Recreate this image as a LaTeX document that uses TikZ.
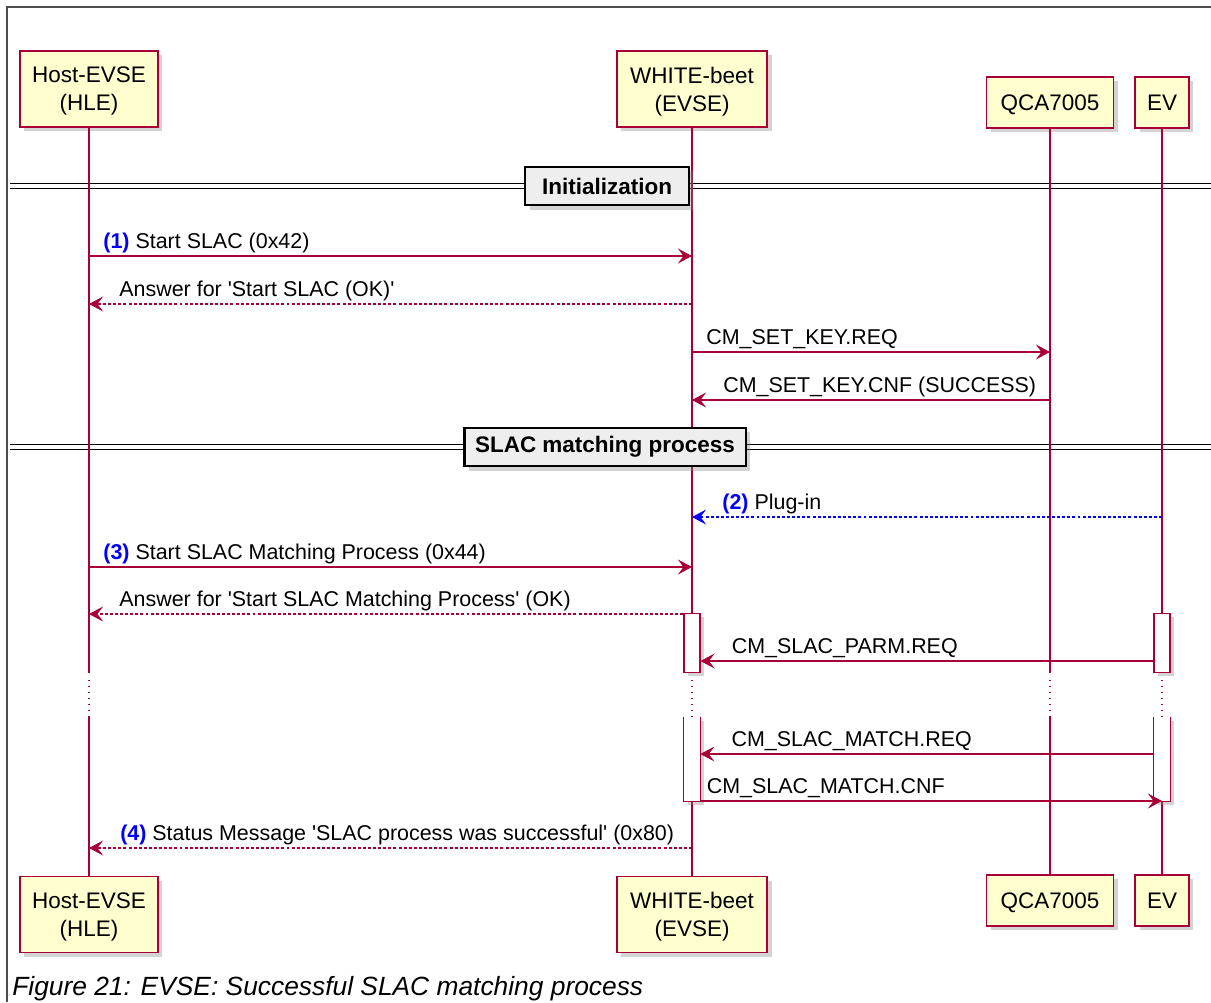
\documentclass[tikz,border=0pt]{standalone}
\usepackage{fontspec}
\setmainfont{Liberation Sans}
\usetikzlibrary{arrows.meta,shadows}

\definecolor{umlRed}{HTML}{A80036}
\definecolor{umlFill}{HTML}{FEFECE}
\definecolor{sepFill}{HTML}{EEEEEE}
\definecolor{numBlue}{HTML}{0000FF}

\tikzstyle{participant} = [rectangle, draw=umlRed, fill=umlFill, line width=0.9pt, inner sep=0pt, align=center, text depth=0pt, font=\fontsize{12.8}{15.9}\selectfont, drop shadow={shadow xshift=2.5pt, shadow yshift=-2.5pt, opacity=0.35}]
\tikzstyle{lifeline} = [umlRed, line width=0.6pt]
\tikzstyle{delayline} = [umlRed, line width=0.6pt, dash pattern=on 0.8pt off 2.6pt]
\tikzstyle{arrow} = [umlRed, line width=0.6pt, -{Stealth[length=8pt,width=8.5pt,inset=3.2pt]}]
\tikzstyle{reply} = [arrow, dash pattern=on 1.7pt off 1.2pt]
\tikzstyle{event} = [numBlue, line width=0.6pt, dash pattern=on 1.7pt off 1.2pt, -{Stealth[length=8pt,width=8.5pt,inset=3.2pt]}]
\tikzstyle{msgtext} = [anchor=base west, inner sep=0pt, yshift=4.3pt, text=black, font=\fontsize{12.2}{14}\selectfont]
\tikzstyle{divline} = [draw=black, line width=0.8pt, double=white, double distance=1.9pt]
\tikzstyle{divider} = [rectangle, draw=black, fill=sepFill, line width=1.2pt, minimum height=22pt, inner sep=0pt, font=\bfseries\fontsize{12.8}{15}\selectfont, drop shadow={shadow xshift=2.5pt, shadow yshift=-2.5pt, opacity=0.35}]
\tikzstyle{activation} = [rectangle, fill=white, inner sep=0pt, minimum width=9.1pt, drop shadow={shadow xshift=2pt, shadow yshift=-2pt, opacity=0.35}]

\newcommand{\num}[1]{\textcolor{numBlue}{\textbf{(#1)}}}
\newcommand{\q}{\textquotesingle}

\begin{document}
\begin{tikzpicture}[x=0.02cm, y=-0.02cm]
\useasboundingbox (0,0) rectangle (1211,1002);
\draw[black!70, line width=0.7pt] (7,1002) -- (7,7) -- (1211,7);

\node (hleTop) [participant, minimum width=78.5pt, minimum height=43.2pt] at (89,89) {Host-EVSE\\(HLE)};
\node (wbTop) [participant, minimum width=85.5pt, minimum height=43.2pt] at (692,89) {WHITE-beet\\(EVSE)};
\node (qcaTop) [participant, minimum width=72.5pt, minimum height=29pt] at (1050,102.5) {QCA7005};
\node (evTop) [participant, minimum width=30.5pt, minimum height=29pt] at (1162,102.5) {EV};

\node (hleBot) [participant, minimum width=78.5pt, minimum height=43.2pt] at (89,914.5) {Host-EVSE\\(HLE)};
\node (wbBot) [participant, minimum width=85.5pt, minimum height=43.2pt] at (692,914.5) {WHITE-beet\\(EVSE)};
\node (qcaBot) [participant, minimum width=72.5pt, minimum height=29pt] at (1050,900.5) {QCA7005};
\node (evBot) [participant, minimum width=30.5pt, minimum height=29pt] at (1162,900.5) {EV};

\coordinate (initL) at (10,186);
\coordinate (initR) at (1211,186);
\coordinate (slacL) at (10,447);
\coordinate (slacR) at (1211,447);
\draw[divline] (initL) -- (initR);
\draw[divline] (slacL) -- (slacR);

\coordinate (gapTop) at (0,673);
\coordinate (gapBot) at (0,717);
\foreach \p in {hle,wb,qca,ev} {
  \draw[lifeline] (\p Top.south) -- (\p Top |- gapTop);
  \draw[delayline] (\p Top |- gapTop) ++(0,7) -- (\p Top |- gapBot);
  \draw[lifeline] (\p Top |- gapBot) -- (\p Bot.north);
}

\node (initBox) [divider, minimum width=93pt] at (607,186) {Initialization\hspace{6pt}};
\node (slacBox) [divider, minimum width=160pt] at (605,447) {SLAC matching process};

\coordinate (act1) at (0,643);
\coordinate (act2) at (0,759);
\node (wbAct1) [activation, draw=umlRed, line width=0.6pt, minimum height=34.1pt] at (wbTop |- act1) {};
\node (evAct1) [activation, draw=umlRed, line width=0.6pt, minimum height=34.1pt] at (evTop |- act1) {};
\node (wbAct2) [activation, minimum height=47.8pt] at (wbTop |- act2) {};
\node (evAct2) [activation, minimum height=47.8pt] at (evTop |- act2) {};
\draw[lifeline] (wbAct2.north west) -- (wbAct2.south west) -- (wbAct2.south east) -- (wbAct2.north east);
\draw[lifeline] (evAct2.north west) -- (evAct2.south west) -- (evAct2.south east) -- (evAct2.north east);

\coordinate (m1) at (0,256);
\coordinate (m2) at (0,304);
\coordinate (m3) at (0,352);
\coordinate (m4) at (0,400);
\coordinate (m5) at (0,517);
\coordinate (m6) at (0,567);
\coordinate (m7) at (0,614);
\coordinate (m8) at (0,661);
\coordinate (m9) at (0,754);
\coordinate (m10) at (0,801);
\coordinate (m11) at (0,848);

\draw[arrow] (hleTop |- m1) -- (wbTop |- m1) node[msgtext, pos=0, xshift=7.9pt] {\num{1} Start SLAC (0x42)};
\draw[reply] (wbTop |- m2) -- (hleTop |- m2) node[msgtext, pos=1, xshift=17pt] {Answer for \q Start SLAC (OK)\q};
\draw[arrow] (wbTop |- m3) -- (qcaTop |- m3) node[msgtext, pos=0, xshift=7.9pt] {CM\_SET\_KEY.REQ};
\draw[arrow] (qcaTop |- m4) -- (wbTop |- m4) node[msgtext, pos=1, xshift=17.5pt] {CM\_SET\_KEY.CNF (SUCCESS)};
\draw[event] (evTop |- m5) -- (wbTop |- m5) node[msgtext, pos=1, xshift=17pt] {\num{2} Plug-in};
\draw[arrow] (hleTop |- m6) -- (wbTop |- m6) node[msgtext, pos=0, xshift=7.9pt] {\num{3} Start SLAC Matching Process (0x44)};
\draw[reply] (wbAct1.west |- m7) -- (hleTop |- m7) node[msgtext, pos=1, xshift=17pt] {Answer for \q Start SLAC Matching Process\q{} (OK)};
\draw[arrow] (evAct1.west |- m8) -- (wbAct1.east |- m8) node[msgtext, pos=1, xshift=17.5pt] {CM\_SLAC\_PARM.REQ};
\draw[arrow] (evAct2.west |- m9) -- (wbAct2.east |- m9) node[msgtext, pos=1, xshift=17.5pt] {CM\_SLAC\_MATCH.REQ};
\draw[arrow] (wbAct2.east |- m10) -- (evTop |- m10) node[msgtext, pos=0, xshift=3.4pt] {CM\_SLAC\_MATCH.CNF};
\draw[reply] (wbTop |- m11) -- (hleTop |- m11) node[msgtext, pos=1, xshift=17.5pt] {\num{4} Status Message \q SLAC process was successful\q{} (0x80)};

\node (caption) [anchor=base west, inner sep=0pt, font=\itshape\fontsize{15}{18}\selectfont] at (12,995) {Figure 21: EVSE: Successful SLAC matching process};
\end{tikzpicture}
\end{document}
